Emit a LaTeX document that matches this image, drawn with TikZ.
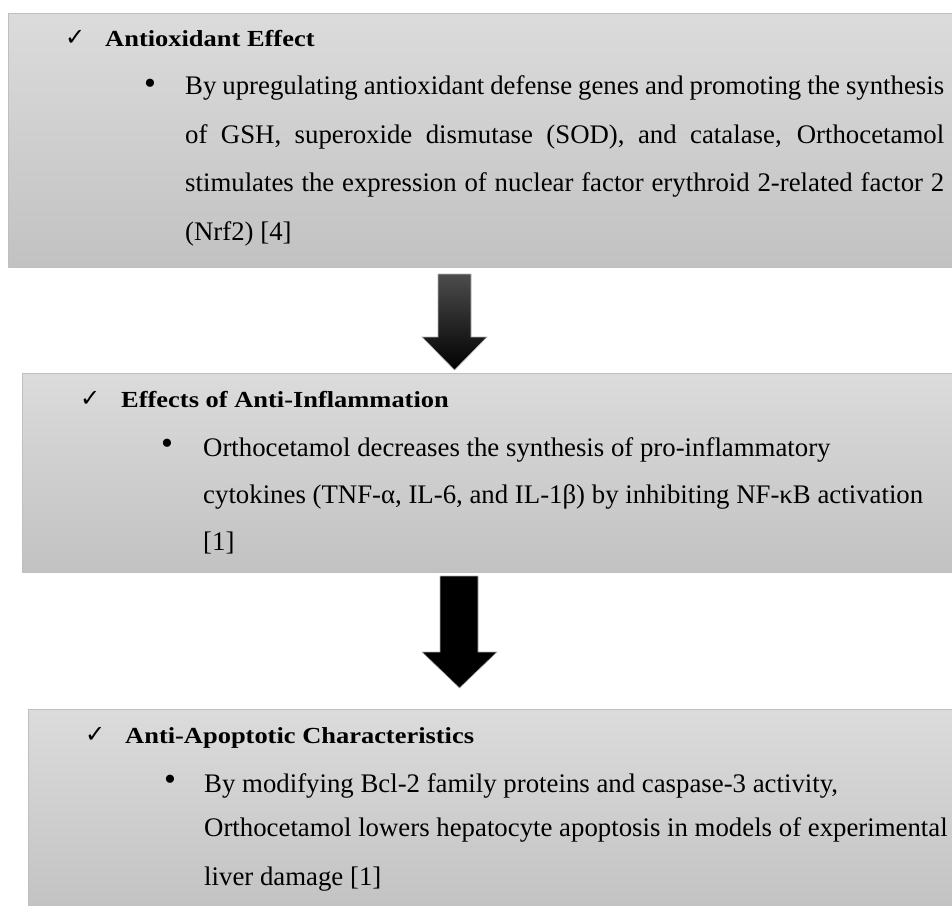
\documentclass[tikz,border=0pt]{standalone}
\usepackage{fontspec}
\setmainfont{Liberation Serif}
\newfontfamily\tickfont{DejaVu Sans}
\newfontfamily\headfont{Liberation Serif}[FakeStretch=1.15]

\tikzset{
  panel/.style={draw=gray!50, line width=0.8pt, top color=gray!28, bottom color=gray!48,
    anchor=north west, inner sep=0pt},
  head/.style={anchor=base west, inner sep=0pt, font=\headfont\bfseries\fontsize{23}{23}\selectfont},
  body/.style={anchor=base west, inner sep=0pt, font=\fontsize{26.8}{26.8}\selectfont},
  tick/.style={anchor=base west, inner sep=0pt, font=\tickfont\fontsize{24}{24}\selectfont},
  bullet/.style={inner sep=0pt, font=\fontsize{34}{34}\selectfont},
  blockarrow/.style={draw=gray!60, line width=0.6pt}
}

\begin{document}
\begin{tikzpicture}[x=1pt, y=-1pt]
    \clip (0,0) rectangle (952,905);

    % Panel 1: antioxidant
    \node[panel, minimum width=950pt, minimum height=254pt] (antiox) at (8,13) {};
    \node[tick] (antioxtick) at (65,45) {✓};
    \node[head] (antioxhead) at (105,46) {Antioxidant Effect};
    \node[bullet] (antioxdot) at (150,87) {•};
    \node[body] (antioxA) at (185,94) {\makebox[759pt][s]{By upregulating antioxidant defense genes and promoting the synthesis}};
    \node[body] (antioxB) at (185,143) {\makebox[759pt][s]{of GSH, superoxide dismutase (SOD), and catalase, Orthocetamol}};
    \node[body] (antioxC) at (185,191) {\makebox[759pt][s]{stimulates the expression of nuclear factor erythroid 2-related factor 2}};
    \node[body] (antioxD) at (185,240) {(Nrf2) [4]};

    % Arrow 1 (shaded shaft)
    \shade[blockarrow, top color=black!70, middle color=black, bottom color=black]
        (438,274) -- (471,274) -- (471,337) -- (487,337) -- (454.5,370)
        -- (422,337) -- (438,337) -- cycle;

    % Panel 2: anti-inflammation
    \node[panel, minimum width=936pt, minimum height=199pt] (inflam) at (22,373) {};
    \node[tick] (inflamtick) at (80,406) {✓};
    \node[head] (inflamhead) at (121,407) {Effects of Anti-Inflammation};
    \node[bullet] (inflamdot) at (167,447) {•};
    \node[body] (inflamA) at (203,456) {Orthocetamol decreases the synthesis of pro-inflammatory};
    \node[body] (inflamB) at (203,503) {cytokines (TNF-α, IL-6, and IL-1β) by inhibiting NF-κB activation};
    \node[body] (inflamC) at (203,550) {[1]};

    % Arrow 2
    \fill[blockarrow, fill=black]
        (440,576) -- (478,576) -- (478,652) -- (497,652) -- (459.5,688)
        -- (422,652) -- (440,652) -- cycle;

    % Panel 3: anti-apoptotic
    \node[panel, minimum width=930pt, minimum height=205pt] (apopt) at (28,709) {};
    \node[tick] (apopttick) at (85,742) {✓};
    \node[head] (apopthead) at (125,743) {Anti-Apoptotic Characteristics};
    \node[bullet] (apoptdot) at (170,783) {•};
    \node[body] (apoptA) at (204,792) {By modifying Bcl-2 family proteins and caspase-3 activity,};
    \node[body] (apoptB) at (204,836) {Orthocetamol lowers hepatocyte apoptosis in models of experimental};
    \node[body] (apoptC) at (204,885) {liver damage [1]};
\end{tikzpicture}
\end{document}
